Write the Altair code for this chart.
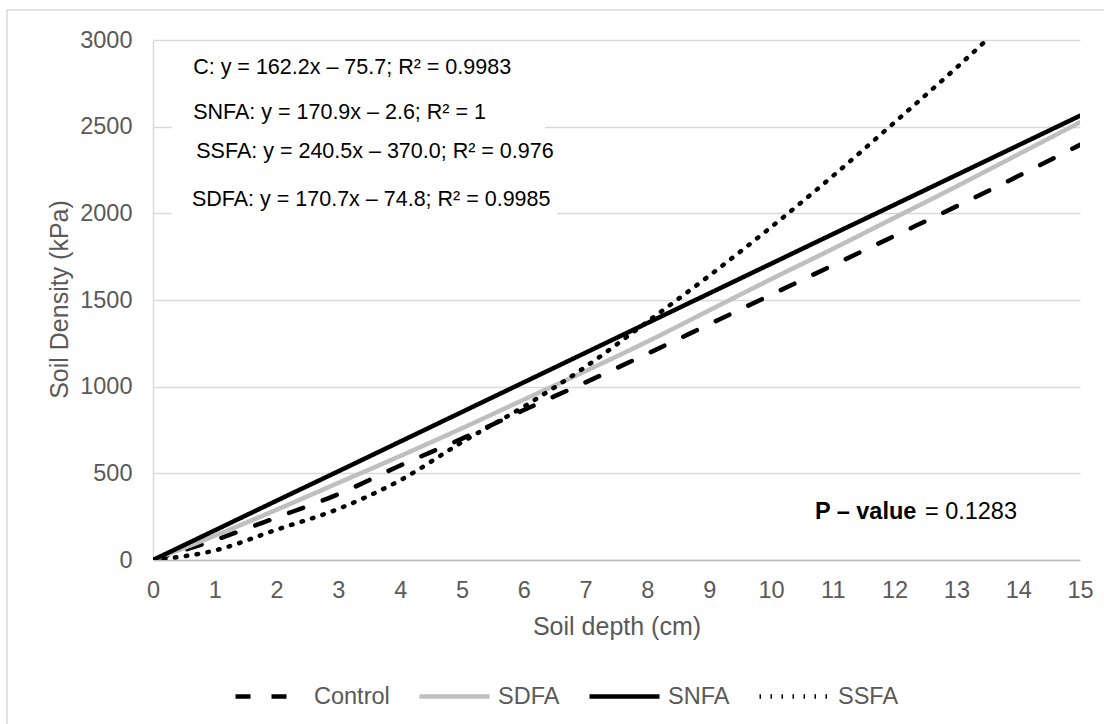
import altair as alt
import pandas as pd

# Soil depth (cm) and penetration readings (kPa) per treatment
depth_cm = list(range(16))
control = [0, 115, 245, 380, 545, 700, 865, 1025, 1190, 1360, 1530, 1700, 1870, 2040, 2215, 2395]
sdfa = [0, 140, 290, 445, 600, 760, 925, 1090, 1260, 1440, 1620, 1795, 1975, 2155, 2340, 2525]
snfa = [0, 171, 342, 512, 683, 854, 1025, 1196, 1367, 1538, 1709, 1880, 2050, 2221, 2392, 2563]
ssfa = [0, 55, 175, 295, 460, 680, 885, 1115, 1375, 1640, 1920, 2215, 2525, 2840, 3170, 3510]

series_names = ["Control", "SDFA", "SNFA", "SSFA"]
series_values = [control, sdfa, snfa, ssfa]
series_colors = ["#000000", "#bfbfbf", "#000000", "#000000"]
series_dashes = [[15, 21], [1, 0], [1, 0], [1.5, 9.5]]
series_widths = [4.5, 4.5, 4.5, 5]

# Regression equations written on the plot
eq_labels = [
    "C: y = 162.2x – 75.7; R² = 0.9983",
    "SNFA: y = 170.9x – 2.6; R² = 1",
    "SSFA: y = 240.5x – 370.0; R² = 0.976",
    "SDFA: y = 170.7x – 74.8; R² = 0.9985",
]
eq_x = [0.65, 0.65, 0.70, 0.63]
eq_y = [2838, 2579, 2354, 2077]
eq_box_x0 = [0.31, 0.31, 0.31, 0.31]
eq_box_x1 = [5.92, 6.34, 6.60, 6.54]
eq_box_half = 95

p_label_bold = "P – value"
p_label_rest = "= 0.1283"
p_bold_x, p_rest_x, p_y = 10.71, 12.49, 277

FONT = "Liberation Sans"
GREY_TEXT = "#595959"

rows = []
for name, vals in zip(series_names, series_values):
    for d, v in zip(depth_cm, vals):
        rows.append({"depth": d, "density": v, "series": name})
curve_df = pd.DataFrame(rows)

eq_df = pd.DataFrame({
    "label": eq_labels,
    "x": eq_x,
    "y": eq_y,
    "bx0": eq_box_x0,
    "bx1": eq_box_x1,
    "by0": [v - eq_box_half for v in eq_y],
    "by1": [v + eq_box_half for v in eq_y],
})

x_scale = alt.Scale(domain=[0, 15], nice=False, zero=False)
y_scale = alt.Scale(domain=[0, 3000], nice=False)

x_axis = alt.Axis(
    title="Soil depth (cm)",
    values=depth_cm,
    grid=False,
    ticks=False,
    tickSize=0,
    domainColor="#bfbfbf",
    domainWidth=1.5,
    labelPadding=18,
    labelFlush=False,
    labelOverlap=False,
    titleY=54,
)
y_axis = alt.Axis(
    title="Soil Density (kPa)",
    values=[0, 500, 1000, 1500, 2000, 2500, 3000],
    format="d",
    grid=True,
    gridColor="#d9d9d9",
    gridWidth=1.5,
    ticks=False,
    tickSize=0,
    domainColor="#d9d9d9",
    domainWidth=1.5,
    labelPadding=21,
    labelFlush=False,
    titleAngle=270,
    titleBaseline="alphabetic",
    titleAlign="center",
    titleX=-86,
    titleY=259,
)

legend_spec = alt.Legend(
    title=None,
    orient="none",
    legendX=80,
    legendY=619,
    direction="horizontal",
    symbolType="stroke",
    symbolSize=4900,
    symbolStrokeWidth=4.5,
    labelFontSize=23.5,
    labelColor=GREY_TEXT,
    labelFont=FONT,
    labelOffset=6,
    columnPadding=20,
    padding=0,
    labelLimit=0,
)

# Chart frame
frame = alt.Chart(alt.Data(values=[{}])).mark_rect(
    fillOpacity=0, stroke="#d9d9d9", strokeWidth=1.5
).encode(
    x=alt.value(-146), x2=alt.value(960), y=alt.value(-30), y2=alt.value(700)
)

boxes = alt.Chart(eq_df).mark_rect(color="white").encode(
    x=alt.X("bx0:Q", scale=x_scale, axis=x_axis),
    x2="bx1:Q",
    y=alt.Y("by0:Q", scale=y_scale, axis=y_axis),
    y2="by1:Q",
)

eq_text = alt.Chart(eq_df).mark_text(
    align="left", baseline="middle", fontSize=21.5, font=FONT, color="black"
).encode(
    x=alt.X("x:Q", scale=x_scale, axis=x_axis),
    y=alt.Y("y:Q", scale=y_scale, axis=y_axis),
    text="label:N",
)

lines = alt.Chart(curve_df).mark_line(
    interpolate="monotone", strokeCap="round", clip=True
).encode(
    x=alt.X("depth:Q", scale=x_scale, axis=x_axis),
    y=alt.Y("density:Q", scale=y_scale, axis=y_axis),
    color=alt.Color(
        "series:N",
        scale=alt.Scale(domain=series_names, range=series_colors),
        legend=legend_spec,
    ),
    strokeDash=alt.StrokeDash(
        "series:N",
        scale=alt.Scale(domain=series_names, range=series_dashes),
        legend=legend_spec,
    ),
    strokeWidth=alt.StrokeWidth(
        "series:N",
        scale=alt.Scale(domain=series_names, range=series_widths),
        legend=legend_spec,
    ),
)

p_df = pd.DataFrame({"x": [p_bold_x], "x2": [p_rest_x], "y": [p_y]})
p_bold = alt.Chart(p_df).mark_text(
    align="left", baseline="middle", fontSize=23.5, font=FONT, fontWeight="bold", color="black",
    text=p_label_bold,
).encode(
    x=alt.X("x:Q", scale=x_scale, axis=x_axis),
    y=alt.Y("y:Q", scale=y_scale, axis=y_axis),
)
p_rest = alt.Chart(p_df).mark_text(
    align="left", baseline="middle", fontSize=23.5, font=FONT, color="black",
    text=p_label_rest,
).encode(
    x=alt.X("x2:Q", scale=x_scale, axis=x_axis),
    y=alt.Y("y:Q", scale=y_scale, axis=y_axis),
)

chart = alt.layer(frame, boxes, eq_text, lines, p_bold, p_rest).properties(
    width=927,
    height=520,
    padding={"left": 153, "top": 40, "right": 24, "bottom": 164},
    autosize=alt.AutoSizeParams(type="none"),
    background="white",
).configure_view(
    stroke=None
).configure_axis(
    labelFont=FONT,
    labelFontSize=23.5,
    labelColor=GREY_TEXT,
    titleFont=FONT,
    titleFontSize=25,
    titleColor=GREY_TEXT,
    titleFontWeight="normal",
)

chart.save("out.html", embed_options={"renderer": "svg", "actions": False})
